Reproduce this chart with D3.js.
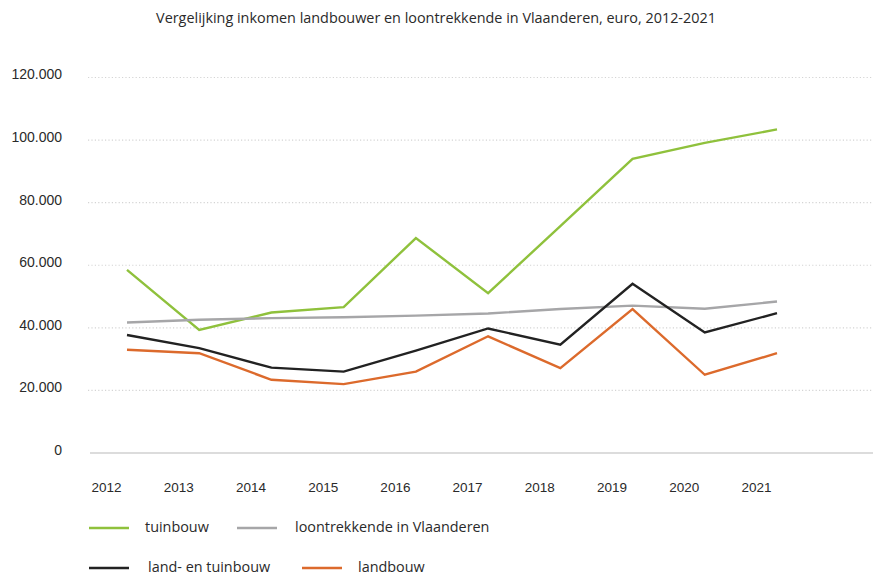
<!DOCTYPE html>
<html>
<head>
<meta charset="utf-8">
<script src="https://cdn.jsdelivr.net/npm/d3@7"></script>
<style>
  html, body { margin: 0; padding: 0; background: #fff; }
  svg { display: block; font-family: "Open Sans", "Noto Sans", sans-serif; }
</style>
</head>
<body>
<svg id="chart" width="873" height="577"></svg>
<script>
// Years on the horizontal axis
const years = [2012, 2013, 2014, 2015, 2016, 2017, 2018, 2019, 2020, 2021];

// Income per series, euro
const tuinbouw = [58500, 39300, 44900, 46600, 68700, 51100, 72500, 94000, 99100, 103400];
const loontrekkende = [41700, 42600, 43100, 43400, 43900, 44600, 46000, 47100, 46100, 48400];
const landEnTuinbouw = [37700, 33500, 27300, 26000, 32700, 39800, 34600, 54100, 38500, 44700];
const landbouw = [33000, 31900, 23400, 22000, 26000, 37300, 27100, 46000, 25000, 31900];

// Value axis ticks
const yTicks = [0, 20000, 40000, 60000, 80000, 100000, 120000];

const title = "Vergelijking inkomen landbouwer en loontrekkende in Vlaanderen, euro, 2012-2021";

const series = [
  { name: "tuinbouw", values: tuinbouw, color: "#8fc13c" },
  { name: "loontrekkende in Vlaanderen", values: loontrekkende, color: "#a6a6a8" },
  { name: "land- en tuinbouw", values: landEnTuinbouw, color: "#222222" },
  { name: "landbouw", values: landbouw, color: "#dc6a2c" }
];

const svg = d3.select("#chart");

const x = d3.scalePoint().domain(years).range([127, 777]);
const y = d3.scaleLinear().domain([0, 120000]).range([453, 77.5]);

const nl = d3.formatLocale({ decimal: ",", thousands: ".", grouping: [3], currency: ["€", ""] });
const fmt = nl.format(",d");

// Title
svg.append("text")
  .attr("x", 436).attr("y", 23)
  .attr("text-anchor", "middle")
  .attr("font-size", 14.4)
  .attr("fill", "#2a2a2a")
  .text(title);

// Dotted gridlines
svg.append("g")
  .selectAll("line")
  .data(yTicks.filter(d => d > 0))
  .join("line")
  .attr("x1", 88).attr("x2", 873)
  .attr("y1", d => y(d)).attr("y2", d => y(d))
  .attr("stroke", "#d4d4d4")
  .attr("stroke-width", 1.2)
  .attr("stroke-dasharray", "1.2,2.2");

// Solid baseline
svg.append("line")
  .attr("x1", 90).attr("x2", 873)
  .attr("y1", y(0)).attr("y2", y(0))
  .attr("stroke", "#d0d0d0")
  .attr("stroke-width", 1.5);

// Value axis labels
const yAxis = d3.axisLeft(y).tickValues(yTicks).tickFormat(fmt).tickSize(0).tickPadding(0);
const gy = svg.append("g").attr("transform", "translate(62,-3)").call(yAxis);
gy.select(".domain").remove();
gy.selectAll("text").attr("font-size", 14).attr("fill", "#2a2a2a").attr("font-family", "inherit");

// Year labels, set slightly left of their data points
const xAxis = d3.axisBottom(x).tickSize(0).tickPadding(0).tickFormat(d3.format("d"));
const gx = svg.append("g").attr("transform", "translate(-21,482)").call(xAxis);
gx.select(".domain").remove();
gx.selectAll("text").attr("font-size", 13.5).attr("fill", "#2a2a2a").attr("font-family", "inherit");

// Series lines
const line = d3.line()
  .x((d, i) => x(years[i]))
  .y(d => y(d));

svg.append("g")
  .selectAll("path")
  .data(series)
  .join("path")
  .attr("d", s => line(s.values))
  .attr("fill", "none")
  .attr("stroke", s => s.color)
  .attr("stroke-width", 2.4)
  .attr("stroke-linejoin", "miter");

// Legend
const legendPos = [
  { lx: 89, tx: 145, ty: 528 },
  { lx: 237, tx: 295, ty: 528 },
  { lx: 89, tx: 148, ty: 568 },
  { lx: 302, tx: 358, ty: 568 }
];
const lg = svg.append("g")
  .selectAll("g")
  .data(series)
  .join("g");
lg.append("line")
  .attr("x1", (s, i) => legendPos[i].lx)
  .attr("x2", (s, i) => legendPos[i].lx + 40)
  .attr("y1", (s, i) => legendPos[i].ty)
  .attr("y2", (s, i) => legendPos[i].ty)
  .attr("stroke", s => s.color)
  .attr("stroke-width", 2.4);
lg.append("text")
  .attr("x", (s, i) => legendPos[i].tx)
  .attr("y", (s, i) => legendPos[i].ty)
  .attr("dy", "0.3em")
  .attr("font-size", 14.4)
  .attr("fill", "#2a2a2a")
  .text(s => s.name);
</script>
</body>
</html>
